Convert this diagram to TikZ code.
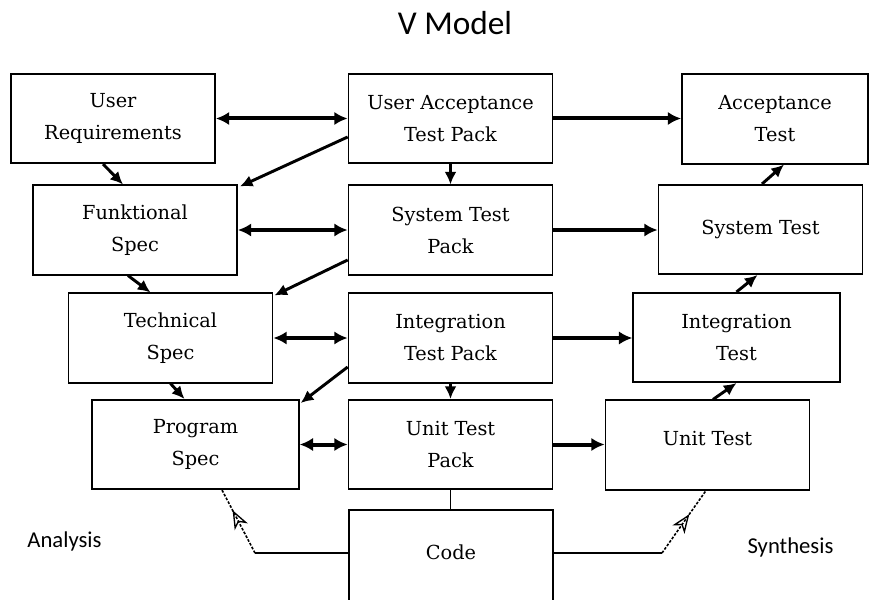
\documentclass[tikz,border=0pt]{standalone}
\usepackage{fontspec}
\setmainfont{DejaVu Serif}
\newfontfamily\vmsans{Carlito}
\usetikzlibrary{arrows.meta,calc,decorations.markings}

\tikzset{
  vbox/.style={draw, line width=1.3pt, minimum width=153pt, minimum height=67pt,
    inner sep=0.75pt, align=center, font=\fontsize{14.5}{24}\selectfont},
  bigarr/.style={line width=3pt, -{Latex[length=10pt,width=10pt]}},
  dblarr/.style={line width=3pt, {Latex[length=10pt,width=10pt]}-{Latex[length=10pt,width=10pt]}},
  diagarr/.style={line width=2.2pt, -{Latex[length=9.5pt,width=9pt]}},
  dashln/.style={line width=1.2pt, dash pattern=on 2pt off 1.2pt},
  openmid/.style={postaction={decorate}, decoration={markings,
    mark=at position #1 with {\arrow{Stealth[open,length=14pt,width=11pt,inset=4pt,line width=1pt]}}}},
  sidetxt/.style={font=\vmsans\fontsize{17}{20}\selectfont, anchor=base}
}

\begin{document}
\begin{tikzpicture}[x=0.75pt,y=0.75pt,yscale=-1,xscale=1]
\useasboundingbox (0,0) rectangle (877,599);
\clip (0,0) rectangle (877,599);

% Title
\node[font=\vmsans\fontsize{25}{28}\selectfont, anchor=base] (title) at (455,35) {V Model};

%Shape: Rectangle (left column)
\node[vbox] (ur) at (113,118.5) {User\\Requirements};
\node[vbox] (fs) at (135,230) {Funktional\\Spec};
\node[vbox] (ts) at (170.5,338) {Technical\\Spec};
\node[vbox, minimum width=155pt] (ps) at (195.5,444.5) {Program\\Spec};
%Shape: Rectangle (middle column)
\node[vbox] (uatp) at (450.5,118.5) {User Acceptance\\Test Pack};
\node[vbox] (stp) at (450.5,230) {System Test\\Pack};
\node[vbox] (itp) at (450.5,338) {Integration\\Test Pack};
\node[vbox] (utp) at (450.5,444.5) {Unit Test\\Pack};
\node[vbox, anchor=north, minimum height=0pt, inner ysep=0pt, text height=37.5pt, text depth=40pt] (code) at (451,509) {Code};
%Shape: Rectangle (right column)
\node[vbox, minimum width=139.5pt] (at) at (775,119) {Acceptance\\Test};
\node[vbox] (st) at (760.5,229.5) {System Test};
\node[vbox, minimum width=155pt] (it) at (736.5,337.5) {Integration\\Test};
\node[vbox, text depth=10pt] (ut) at (707.5,445) {Unit Test};

% Text Node
\node[sidetxt] (ana) at (64.5,547) {Analysis};
\node[sidetxt] (syn) at (790.5,553) {Synthesis};

%Straight Lines: both ways
\draw[dblarr] (ur) -- (uatp);
\draw[dblarr] (fs) -- (stp);
\draw[dblarr] (ts) -- (itp);
\draw[dblarr] (ps) -- (utp);
%Straight Lines: to the tests
\draw[bigarr] (uatp.east) -- (uatp.east -| at.west);
\draw[bigarr] (stp.east) -- (stp.east -| st.west);
\draw[bigarr] (itp.east) -- (itp.east -| it.west);
\draw[bigarr] (utp.east) -- (utp.east -| ut.west);
%Straight Lines: down the packs
\draw[diagarr] (uatp) -- (stp);
\draw[diagarr] (itp) -- (utp);
\draw[line width=1.3pt] (utp.south) -- (utp.south |- code.north);

%Straight Lines: left side
\draw[diagarr] ($(ur.south)+(-10,0)$) -- ($(fs.north)+(-12,0)$);
\draw[diagarr] ($(fs.south)+(-7,0)$) -- ($(ts.north)+(-20,0)$);
\draw[diagarr] (ts.south) -- ($(ps.north)+(-11,0)$);
\draw[diagarr] ($(uatp.west)+(0,18.5)$) -- ($(fs.north east)+(2,2)$);
\draw[diagarr] ($(stp.west)+(0,30)$) -- ($(ts.north east)+(1,3)$);
\draw[diagarr] ($(itp.west)+(0,29)$) -- ($(ps.north east)+(1,4)$);

%Straight Lines: right side
\draw[diagarr] ($(st.north)+(1.5,0)$) -- ($(at.south)+(9,0)$);
\draw[diagarr] (it.north) -- ($(st.south)+(-3,0)$);
\draw[diagarr] ($(ut.north)+(5.5,0)$) -- (it.south);

%Code to the specs and tests
\coordinate (anaknee) at (255,553);
\coordinate (synknee) at (662,553);
\draw[line width=1.3pt] (code.west |- anaknee) -- (anaknee);
\draw[dashln, openmid=0.68] (anaknee) -- ($(ps.south)+(26.5,0)$);
\draw[line width=1.3pt] (code.east |- synknee) -- (synknee);
\draw[dashln, openmid=0.62] (synknee) -- ($(ut.south)+(-1.5,0)$);

\end{tikzpicture}
\end{document}
